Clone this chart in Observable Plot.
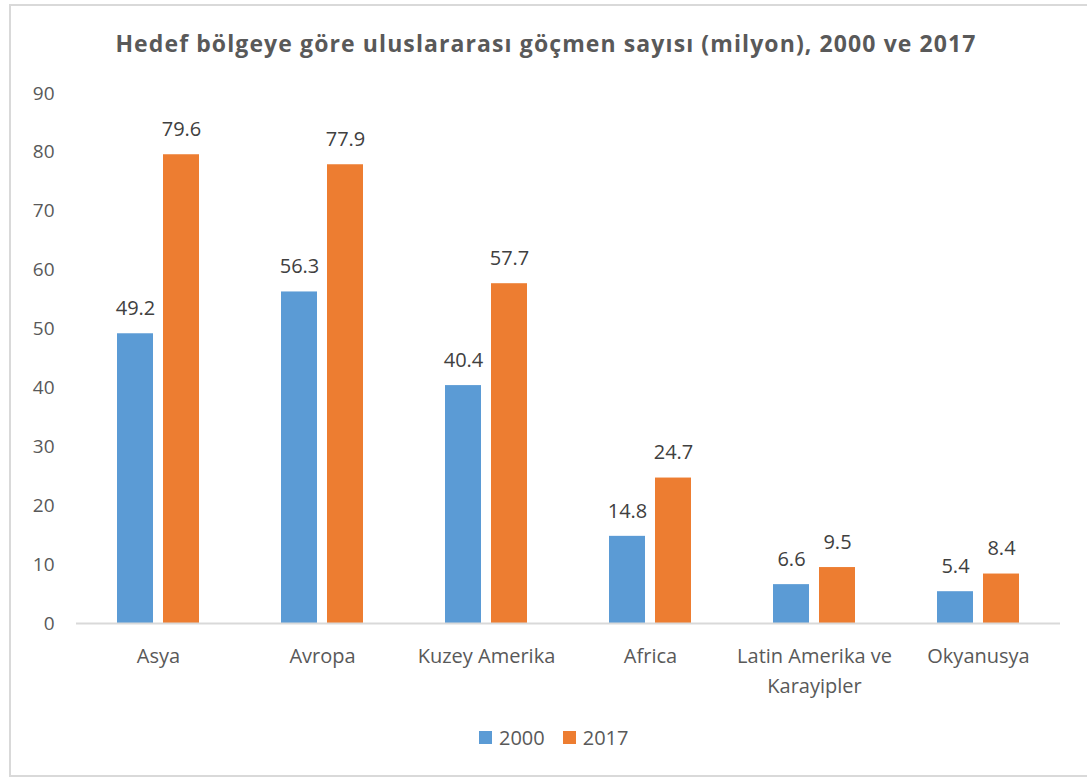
<!DOCTYPE html>
<html>
<head>
<meta charset="utf-8">
<script src="https://cdn.jsdelivr.net/npm/d3@7"></script>
<script src="https://cdn.jsdelivr.net/npm/@observablehq/plot@0.6"></script>
<style>
  body { margin: 0; background: #fff; font-family: "Open Sans", sans-serif; }
  #wrap { position: relative; width: 1087px; height: 777px; overflow: hidden; }
  #frame { position: absolute; left: 9px; top: 4px; width: 1090px; height: 769px;
           border-left: 2px solid #d9d9d9; border-top: 2px solid #d9d9d9; border-bottom: 2px solid #d9d9d9; }
  #title { position: absolute; left: 0; width: 1092px; top: 27px; text-align: center;
           font-family: "Open Sans", sans-serif; font-weight: bold; font-size: 23px; letter-spacing: 1.1px; color: #595959; }
  #chart { position: absolute; left: 0; top: 0; }
  #legend { position: absolute; top: 724px; left: 479px; display: flex; align-items: center;
            font-size: 20px; color: #595959; }
  .sw { width: 13px; height: 13px; display: inline-block; margin-right: 7px; }
</style>
</head>
<body>
<div id="wrap">
  <div id="frame"></div>
  <div id="chart"></div>
  <div id="title">Hedef bölgeye göre uluslararası göçmen sayısı (milyon), 2000 ve 2017</div>
  <div id="legend"></div>
</div>
<script>
const categories = ["Asya", "Avropa", "Kuzey Amerika", "Africa", "Latin Amerika ve Karayipler", "Okyanusya"];
const years = ["2000", "2017"];
const values2000 = [49.2, 56.3, 40.4, 14.8, 6.6, 5.4];
const values2017 = [79.6, 77.9, 57.7, 24.7, 9.5, 8.4];
const yTicks = [0, 10, 20, 30, 40, 50, 60, 70, 80, 90];
const colors = ["#5B9BD5", "#ED7D31"];

const data = [];
categories.forEach((c, i) => {
  data.push({region: c, year: years[0], value: values2000[i]});
  data.push({region: c, year: years[1], value: values2017[i]});
});

const wrapLabel = d => d === "Latin Amerika ve Karayipler" ? "Latin Amerika ve\nKarayipler" : d;

const chart = Plot.plot({
  width: 1087,
  height: 703,
  marginTop: 93,
  marginBottom: 80,
  marginLeft: 74,
  marginRight: 25,
  style: {fontFamily: "Open Sans, sans-serif", background: "transparent"},
  y: {domain: [0, 90], label: null},
  fx: {domain: categories, padding: 0, label: null},
  x: {domain: years, paddingInner: 0.21, paddingOuter: 0.857, axis: null},
  color: {domain: years, range: colors},
  marks: [
    Plot.axisY({ticks: yTicks, tickSize: 0, tickPadding: 22, fontSize: 19, fill: "#595959", label: null}),
    Plot.axisFx({anchor: "bottom", tickSize: 0, tickPadding: 18, fontSize: 20, fill: "#595959",
                 lineHeight: 1.5, tickFormat: wrapLabel, label: null}),
    Plot.barY(data, {fx: "region", x: "year", y: "value", fill: "year"}),
    Plot.ruleY([0], {stroke: "#d9d9d9", strokeWidth: 2}),
    Plot.text(data, {fx: "region", x: "year", y: "value", text: d => d.value.toFixed(1),
                     dy: -25, fontSize: 20, fill: "#404040", lineAnchor: "middle"})
  ]
});
document.getElementById("chart").appendChild(chart);

const legend = document.getElementById("legend");
years.forEach((y, i) => {
  const item = document.createElement("span");
  item.style.display = "flex";
  item.style.alignItems = "center";
  item.style.marginRight = i === 0 ? "18px" : "0";
  item.innerHTML = `<span class="sw" style="background:${colors[i]}"></span>${y}`;
  legend.appendChild(item);
});
</script>
</body>
</html>
